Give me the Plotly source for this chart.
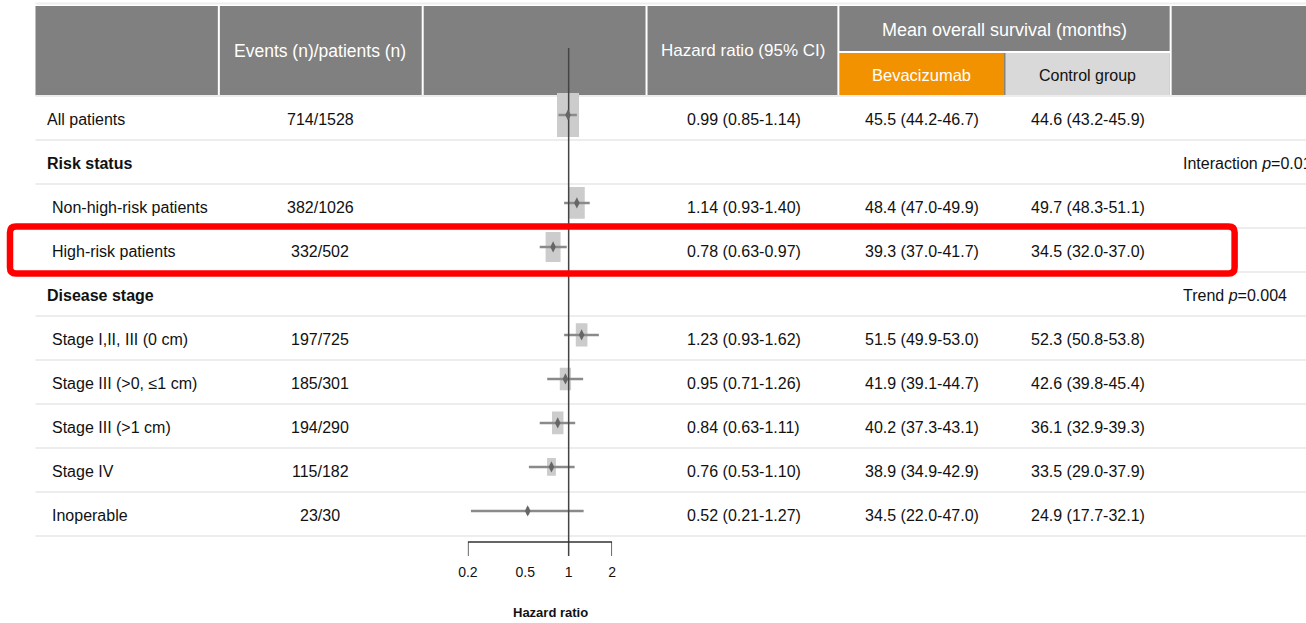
import math
import plotly.graph_objects as go

# ---------------- data ----------------
row_labels = ["All patients", "Risk status", "Non-high-risk patients", "High-risk patients",
              "Disease stage", "Stage I,II, III (0 cm)", "Stage III (>0, \u22641 cm)",
              "Stage III (>1 cm)", "Stage IV", "Inoperable"]
row_is_group = [False, True, False, False, True, False, False, False, False, False]
row_level = [0, 0, 1, 1, 0, 1, 1, 1, 1, 1]
events = [714, None, 382, 332, None, 197, 185, 194, 115, 23]
patients = [1528, None, 1026, 502, None, 725, 301, 290, 182, 30]
hr = [0.99, None, 1.14, 0.78, None, 1.23, 0.95, 0.84, 0.76, 0.52]
hr_lo = [0.85, None, 0.93, 0.63, None, 0.93, 0.71, 0.63, 0.53, 0.21]
hr_hi = [1.14, None, 1.40, 0.97, None, 1.62, 1.26, 1.11, 1.10, 1.27]
bev_mean = [45.5, None, 48.4, 39.3, None, 51.5, 41.9, 40.2, 38.9, 34.5]
bev_lo = [44.2, None, 47.0, 37.0, None, 49.9, 39.1, 37.3, 34.9, 22.0]
bev_hi = [46.7, None, 49.9, 41.7, None, 53.0, 44.7, 43.1, 42.9, 47.0]
ctl_mean = [44.6, None, 49.7, 34.5, None, 52.3, 42.6, 36.1, 33.5, 24.9]
ctl_lo = [43.2, None, 48.3, 32.0, None, 50.8, 39.8, 32.9, 29.0, 17.7]
ctl_hi = [45.9, None, 51.1, 37.0, None, 53.8, 45.4, 39.3, 37.9, 32.1]
p_text = ["", "Interaction <i>p</i>=0.01", "", "", "Trend <i>p</i>=0.004", "", "", "", "", ""]
tick_vals = [0.2, 0.5, 1, 2]
tick_text = ["0.2", "0.5", "1", "2"]
highlight_row = 3

# ---------------- layout constants ----------------
W, H = 1306, 623
Y0, RH = 118.0, 44.0          # pixel centre of first row, row height
FONT = "Liberation Sans, Arial, sans-serif"
TXT = "#111111"
AX_L, AX_R = 467.7, 612.0     # pixel span of forest axis (0.2 .. 2)
PX_PER_DEC = (AX_R - AX_L) / (math.log10(2) - math.log10(0.2))
DX, SX = 9.5, 0.99            # horizontal placement correction


def px(x):
    return (x - DX) / SX / W


def py(y):
    return 1 - y / H


def prow(p):  # pixel -> row units
    return (p - Y0) / RH


fig = go.Figure()
shapes = []
ann = []

# header band
shapes.append(dict(type="line", xref="paper", yref="paper", x0=px(35), x1=1.03, y0=py(3.5), y1=py(3.5),
                   line=dict(color="#EEEEEE", width=2), layer="below"))
shapes.append(dict(type="rect", xref="paper", yref="paper", x0=px(35), x1=1.03, y0=py(6), y1=py(95.5),
                   fillcolor="#808080", line=dict(width=0), layer="below"))
shapes.append(dict(type="rect", xref="paper", yref="paper", x0=px(839.5), x1=px(1004.3), y0=py(53), y1=py(95.5),
                   fillcolor="#F39200", line=dict(width=0), layer="below"))
shapes.append(dict(type="rect", xref="paper", yref="paper", x0=px(1005.7), x1=px(1170), y0=py(53), y1=py(95.5),
                   fillcolor="#D9D9D9", line=dict(width=0), layer="below"))
for xs in [218.5, 422.5, 646.5, 838.5, 1171]:
    shapes.append(dict(type="line", xref="paper", yref="paper", x0=px(xs), x1=px(xs), y0=py(6), y1=py(95.5),
                       line=dict(color="white", width=2), layer="below"))
shapes.append(dict(type="line", xref="paper", yref="paper", x0=px(838.5), x1=px(1171), y0=py(52), y1=py(52),
                   line=dict(color="white", width=2), layer="below"))

# row separators
for k in range(-1, len(row_labels)):
    shapes.append(dict(type="line", xref="paper", yref="y", x0=px(35), x1=1.03, y0=k + 0.5, y1=k + 0.5,
                       line=dict(color="#EDEDED", width=2), layer="below"))

# red highlight rounded rectangle
rx0, rx1 = 9.5, 1235.0
ry0, ry1 = Y0 + RH * highlight_row - 23.5, Y0 + RH * highlight_row + 23.5
r = 6.0
path = (f"M {px(rx0 + r)},{py(ry0)} L {px(rx1 - r)},{py(ry0)} Q {px(rx1)},{py(ry0)} {px(rx1)},{py(ry0 + r)} "
        f"L {px(rx1)},{py(ry1 - r)} Q {px(rx1)},{py(ry1)} {px(rx1 - r)},{py(ry1)} "
        f"L {px(rx0 + r)},{py(ry1)} Q {px(rx0)},{py(ry1)} {px(rx0)},{py(ry1 - r)} "
        f"L {px(rx0)},{py(ry0 + r)} Q {px(rx0)},{py(ry0)} {px(rx0 + r)},{py(ry0)} Z")
shapes.append(dict(type="path", xref="paper", yref="paper", path=path,
                   line=dict(color="#FF0000", width=6.5), layer="above"))

# header texts
def htext(x, y, t, color="white", size=17, bold=False):
    ann.append(dict(xref="paper", yref="paper", x=px(x), y=py(y), text=(f"<b>{t}</b>" if bold else t),
                    showarrow=False, xanchor="center", yanchor="middle",
                    font=dict(family=FONT, size=size, color=color)))


htext(320, 51, "Events (n)/patients (n)", size=17.5)
htext(743, 51, "Hazard ratio (95% CI)")
htext(1005, 30, "Mean overall survival (months)", size=18)
htext(922, 75, "Bevacizumab", size=16.5)
htext(1088, 75, "Control group", color=TXT, size=16)
htext(550, 612, "Hazard ratio", color=TXT, size=13, bold=True)

# row texts
def rtext(x, k, t, anchor="center", bold=False):
    ann.append(dict(xref="paper", yref="y", x=px(x), y=k + 0.03, text=(f"<b>{t}</b>" if bold else t),
                    showarrow=False, xanchor=anchor, yanchor="middle",
                    font=dict(family=FONT, size=16, color=TXT)))


for k, lab in enumerate(row_labels):
    rtext(45 + 5 * row_level[k], k, lab, anchor="left", bold=row_is_group[k])
    if events[k] is not None:
        rtext(320, k, f"{events[k]}/{patients[k]}")
        rtext(744, k, f"{hr[k]:.2f} ({hr_lo[k]:.2f}-{hr_hi[k]:.2f})")
        rtext(922, k, f"{bev_mean[k]:.1f} ({bev_lo[k]:.1f}-{bev_hi[k]:.1f})")
        rtext(1088, k, f"{ctl_mean[k]:.1f} ({ctl_lo[k]:.1f}-{ctl_hi[k]:.1f})")
    if p_text[k]:
        rtext(1181, k, p_text[k], anchor="left")

# ---------------- forest plot ----------------
off = -0.07
bx, by = [], []
cx, cy = [], []
mx, my = [], []
for k in range(len(row_labels)):
    if hr[k] is None:
        continue
    se = (math.log(hr_hi[k]) - math.log(hr_lo[k])) / (2 * 1.96)
    w_px = 1.65 / se
    h_rows = 2.0 * w_px / RH
    half_dec = (w_px / 2) / PX_PER_DEC
    xl, xr = hr[k] * 10 ** (-half_dec), hr[k] * 10 ** half_dec
    yc = k + off
    bx += [xl, xr, xr, xl, xl, None]
    by += [yc - h_rows / 2, yc - h_rows / 2, yc + h_rows / 2, yc + h_rows / 2, yc - h_rows / 2, None]
    cx += [hr_lo[k], hr_hi[k], None]
    cy += [yc, yc, None]
    mx.append(hr[k])
    my.append(yc)

fig.add_trace(go.Scatter(x=bx, y=by, mode="lines", fill="toself", fillcolor="#CCCCCC",
                         line=dict(width=0, color="#CCCCCC"), hoverinfo="skip", showlegend=False))
fig.add_trace(go.Scatter(x=cx, y=cy, mode="lines", line=dict(color="#8A8A8A", width=2.5),
                         hoverinfo="skip", showlegend=False))
fig.add_trace(go.Scatter(x=[1, 1], y=[prow(48), prow(556)], mode="lines",
                         line=dict(color="#444444", width=1.5), hoverinfo="skip", showlegend=False))
fig.add_trace(go.Scatter(x=mx, y=my, mode="markers",
                         marker=dict(symbol="diamond-tall", size=8, color="#666666"),
                         hoverinfo="skip", showlegend=False))
# axis bracket
fig.add_trace(go.Scatter(x=[tick_vals[0], tick_vals[0], tick_vals[-1], tick_vals[-1]],
                         y=[prow(556), prow(542), prow(542), prow(556)], mode="lines",
                         line=dict(color="#333333", width=1.5), hoverinfo="skip", showlegend=False))

fig.update_layout(
    width=W, height=H, autosize=False, margin=dict(l=0, r=0, t=0, b=0),
    paper_bgcolor="white", plot_bgcolor="rgba(0,0,0,0)",
    shapes=shapes, annotations=ann, showlegend=False,
    xaxis=dict(type="log", domain=[px(AX_L), px(AX_R)],
               range=[math.log10(0.2), math.log10(2)],
               anchor="free", position=py(542), showgrid=False, zeroline=False, showline=False,
               tickvals=tick_vals, ticktext=tick_text, ticks="outside", ticklen=17,
               tickcolor="rgba(0,0,0,0)", tickfont=dict(family=FONT, size=14, color=TXT),
               fixedrange=True),
    yaxis=dict(range=[prow(H), prow(0)], domain=[0, 1], visible=False, fixedrange=True),
)

fig.write_html("out.html", config={"responsive": False, "displayModeBar": False},
               post_script="document.body.style.margin='0px';document.body.style.overflow='hidden';")
